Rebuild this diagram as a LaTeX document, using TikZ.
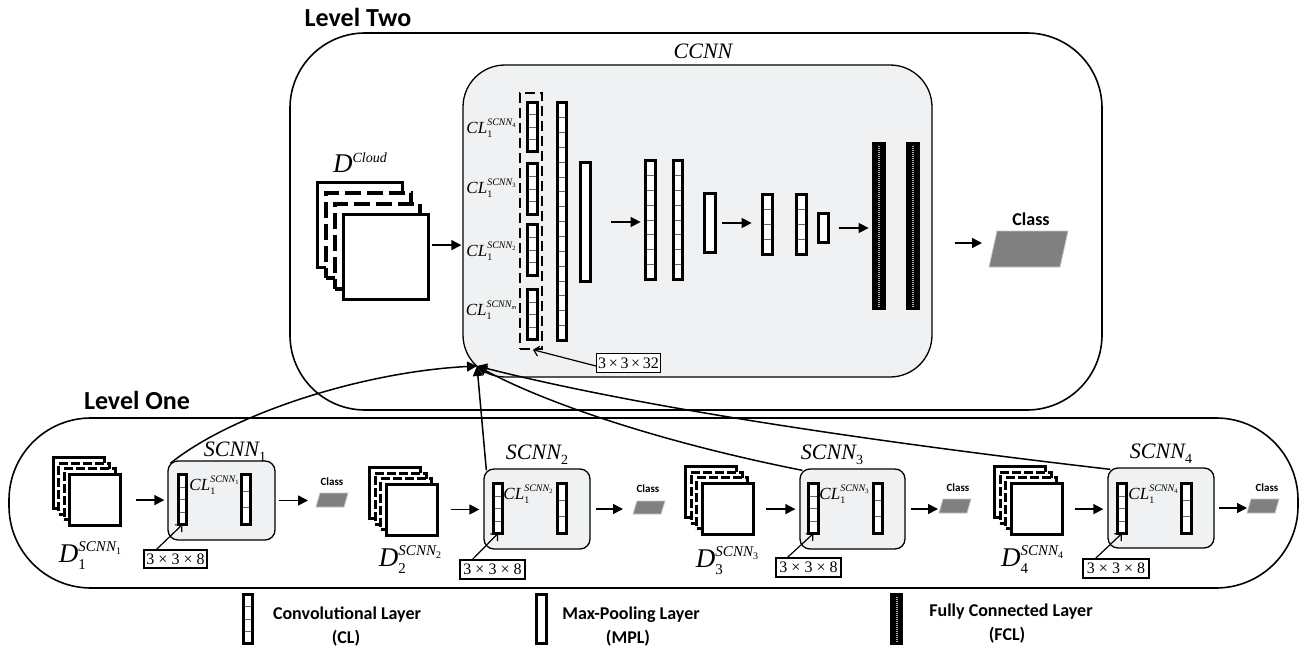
\documentclass[tikz,border=0pt]{standalone}
\usepackage{fontspec}
\setmainfont{Liberation Serif}
\newfontfamily\calib{Carlito}
\usetikzlibrary{arrows.meta,calc}
\definecolor{panel}{HTML}{EFF1F2}
\definecolor{clsgray}{HTML}{808080}
\definecolor{clsedge}{HTML}{C4C4C4}
\newcommand\fs[1]{\fontsize{#1}{#1}\selectfont}
\newcommand\supsub[5]{{\fs{#1}\ooalign{\raisebox{#2}{#4}\cr\raisebox{-#3}{#5}\cr}}}
\newcommand\dlab[1]{{\fs{27}\itshape D}\supsub{15}{11pt}{7pt}{\itshape SCNN\raisebox{-3pt}{\fs{10}\upshape #1}}{\upshape #1}}
\newcommand\cllab[1]{{\fs{17}\itshape CL}\supsub{10}{7.5pt}{4pt}{\itshape SCNN\raisebox{-2pt}{\fs{6.5}\upshape #1}}{\upshape 1}}
\newcommand\scnnlab[1]{{\fs{22}\itshape SCNN}\raisebox{-5pt}{\fs{14}#1}}
\tikzset{
 lay/.style={draw=black, line width=3.2pt, fill=white, inner sep=0pt, outer sep=0pt},
 conv/.style={lay, path picture={%
   \foreach \k in {1,...,#1}{%
     \draw[line width=0.8pt, black!60]
      ($(path picture bounding box.north west)!{\k/#1}!(path picture bounding box.south west)$) --
      ($(path picture bounding box.north east)!{\k/#1}!(path picture bounding box.south east)$);}}},
 fcl/.style={lay, fill=black, path picture={\draw[black!30, line width=2pt, dash pattern=on 1pt off 1pt] (path picture bounding box.north) -- (path picture bounding box.south);}},
 sqs/.style={draw=black, fill=white, inner sep=0pt, outer sep=0pt},
 arr/.style={-{Triangle[length=10pt,width=10pt]}, line width=1.5pt},
 oarr/.style={-{Straight Barb[length=5pt,width=10pt]}, line width=1.2pt},
 dimbox/.style={draw, line width=1.1pt, fill=white, inner sep=1pt, font=\fs{16}},
 sbox/.style={draw, line width=1.3pt, fill=panel, rounded corners=10pt, inner sep=0pt},
 clsst/.style={fill=clsgray, draw=clsedge, line width=0.8pt},
 lbl/.style={inner sep=0pt, outer sep=0pt},
 lgt/.style={font=\calib\bfseries\fs{18}, inner sep=0pt},
 clst/.style={inner sep=0pt, font=\calib\bfseries\fs{11}},
}
\newcommand\lyr[6]{\node[#1, minimum width={#5-#3-3.2}, minimum height={#6-#4-3.2}] (#2) at ({(#3+#5)/2},{(#4+#6)/2}) {};}
\newcommand\dstack[8]{%
 \node[sqs, line width=#7, minimum size={#4-3}] (#1a) at ({#2+#4/2},{#3+#4/2}) {};
 \node[sqs, #8, line width=#7, minimum size={#4-3}] (#1b) at ({#2+#5+#4/2},{#3+#6+#4/2}) {};
 \node[sqs, #8, line width=#7, minimum size={#4-3}] (#1c) at ({#2+2*#5+#4/2},{#3+2*#6+#4/2}) {};
 \node[sqs, line width=#7, minimum size={#4-3}] (#1) at ({#2+3*#5+#4/2},{#3+3*#6+#4/2}) {};}
\newcommand\clsbox[6]{%
 \filldraw[clsst] (#2,#3) -- ++(#4,0) -- ++(-#6,#5) -- ++(-#4,0) -- cycle;
 \coordinate (#1) at ({#2-#6/2},{#3+#5/2});}
\begin{document}
\begin{tikzpicture}[x=1pt,y=-1pt]
\useasboundingbox (0,0) rectangle (1302,650);
\fill[white] (0,0) rectangle (1302,650);
% containers
\node[draw, line width=1.6pt, rounded corners=75pt, minimum width=812pt, minimum height=377pt, inner sep=0pt] (L2) at (696,221.5) {};
\node[draw, line width=1.3pt, fill=panel, rounded corners=42pt, minimum width=469pt, minimum height=312pt, inner sep=0pt] (ccnn) at (697.5,221) {};
\node[draw, line width=1.6pt, rounded corners=82pt, minimum width=1289pt, minimum height=170pt, inner sep=0pt] (L1) at (653.5,503) {};
\node[lbl, font=\calib\bfseries\fs{26}] (lv2) at (358,17) {Level Two};
\node[lbl, font=\calib\bfseries\fs{26}] (lv1) at (137,400) {Level One};
\node[lbl] (ccnnlab) at (703,51) {\fs{22}\itshape CCNN};
% D cloud
\dstack{dc}{316}{181}{88}{8.7}{10.7}{3.5pt}{dash pattern=on 16pt off 6pt}
\node[lbl] (dclab) at (360,163) {{\fs{27}\itshape D}\raisebox{10pt}{\fs{14}\itshape Cloud}};
\coordinate (dcout) at ($(dc.east)+(0,-12)$);
\draw[arr, shorten <=3pt, shorten >=1pt] (dcout) -- (dcout -| ccnn.west);
% CCNN layers
\node[draw, line width=1.5pt, dash pattern=on 10pt off 5pt, minimum width=22pt, minimum height=256pt, inner sep=0pt] (grp) at (531,221) {};
\lyr{conv=4}{cl4}{526}{101}{539}{153}
\lyr{conv=4}{cl3}{526}{162}{539}{216}
\lyr{conv=4}{cl2}{526}{223}{539}{277}
\lyr{conv=4}{clm}{526}{288}{539}{341}
\lyr{conv=16}{bc}{556}{101}{568}{342}
\lyr{lay}{mp1}{579}{161}{592}{283}
\lyr{conv=8}{cv2}{644}{159}{657}{281}
\lyr{conv=8}{cv3}{672}{159}{684}{281}
\lyr{lay}{mp2}{703}{192}{717}{254}
\lyr{conv=4}{cv4}{761}{193}{774}{256}
\lyr{conv=4}{cv5}{795}{193}{808}{256}
\lyr{lay}{mp3}{817}{212}{830}{244}
\lyr{fcl}{fc1}{872}{142}{886}{310}
\lyr{fcl}{fc2}{906}{142}{920}{310}
\node[lbl] (lab4) at (491,128) {\cllab{4}};
\node[lbl] (lab3) at (491,188) {\cllab{3}};
\node[lbl] (lab2) at (491,251) {\cllab{2}};
\node[lbl] (labm) at (491,310) {\cllab{\itshape m}};
\draw[arr, shorten <=21pt, shorten >=5pt] (mp1.east) -- (mp1.east -| cv2.west);
\draw[arr, shorten <=7pt, shorten >=11pt] (mp2.east) -- (mp2.east -| cv4.west);
\draw[arr, shorten <=11pt, shorten >=5pt] (mp3.east) -- (mp3.east -| fc1.west);
\node[dimbox, minimum width=64pt, minimum height=19pt] (b32) at (628.5,363) {3\,×\,3\,×\,32};
\draw[oarr] ($(b32.west)+(0,3)$) -- ($(grp.south)+(2,0)$);
\clsbox{cls0}{997}{231}{71}{36}{8}
\node[lbl, font=\calib\bfseries\fs{18}] (cls0t) at (1031,219) {Class};
\coordinate (ccout) at ($(ccnn.east)+(0,22)$);
\draw[arr, shorten <=22pt, shorten >=11pt] (ccout) -- (ccout -| cls0);
% Level one
\dstack{d1}{52}{456}{54}{5.4}{5.7}{3pt}{dash pattern=on 9pt off 3pt}
\dstack{d2}{368}{466}{54}{5.5}{5.5}{3pt}{dash pattern=on 9pt off 3pt}
\dstack{d3}{684}{465}{54}{5.5}{5.7}{3pt}{dash pattern=on 9pt off 3pt}
\dstack{d4}{993}{465}{54}{5.5}{5.7}{3pt}{dash pattern=on 9pt off 3pt}
\node[lbl] (d1l) at (90,556) {\dlab{1}};
\node[lbl] (d2l) at (410,560) {\dlab{2}};
\node[lbl] (d3l) at (727,561) {\dlab{3}};
\node[lbl] (d4l) at (1032,560) {\dlab{4}};
\node[sbox, minimum width=107pt, minimum height=79pt] (s1) at (221.5,500.5) {};
\node[sbox, minimum width=106pt, minimum height=80pt] (s2) at (537,509) {};
\node[sbox, minimum width=105pt, minimum height=80pt] (s3) at (852.5,509) {};
\node[sbox, minimum width=106pt, minimum height=80pt] (s4) at (1161,508) {};
\node[lbl] (s1l) at (235,452) {\scnnlab{1}};
\node[lbl] (s2l) at (537,455) {\scnnlab{2}};
\node[lbl] (s3l) at (832,455) {\scnnlab{3}};
\node[lbl] (s4l) at (1161,454) {\scnnlab{4}};
\lyr{conv=4}{c1a}{177}{473}{188}{526}
\lyr{conv=3}{c1b}{240}{473}{252}{526}
\lyr{conv=4}{c2a}{492}{482}{504}{535}
\lyr{conv=3}{c2b}{556}{482}{568}{535}
\lyr{conv=4}{c3a}{807}{482}{820}{535}
\lyr{conv=3}{c3b}{872}{482}{884}{535}
\lyr{conv=4}{c4a}{1116}{482}{1128}{535}
\lyr{conv=3}{c4b}{1180}{482}{1193}{535}
\node[lbl] (c1l) at (214,485) {\cllab{1}};
\node[lbl] (c2l) at (528,494) {\cllab{2}};
\node[lbl] (c3l) at (844,494) {\cllab{3}};
\node[lbl] (c4l) at (1153,494) {\cllab{4}};
\clsbox{cls1}{320}{493}{28}{14}{4}
\clsbox{cls2}{637}{501}{28}{13}{4}
\clsbox{cls3}{943}{499}{28}{14}{4}
\clsbox{cls4}{1251}{499}{28}{14}{4}
\node[clst] (cls1t) at (332,482) {Class};
\node[clst] (cls2t) at (648,489) {Class};
\node[clst] (cls3t) at (958,488) {Class};
\node[clst] (cls4t) at (1267,488) {Class};
\draw[arr, shorten <=15pt, shorten >=3pt] (d1.east) -- (d1.east -| s1.west);
\draw[arr, shorten <=3pt, shorten >=10pt] (s1.east) -- (s1.east -| cls1);
\draw[arr, shorten <=14pt, shorten >=4pt] (d2.east) -- (d2.east -| s2.west);
\draw[arr, shorten <=5pt, shorten >=12pt] (s2.east) -- (s2.east -| cls2);
\draw[arr, shorten <=13pt, shorten >=4pt] (d3.east) -- (d3.east -| s3.west);
\draw[arr, shorten <=5pt, shorten >=3pt] (s3.east) -- (s3.east -| cls3);
\draw[arr, shorten <=13pt, shorten >=4pt] (d4.east) -- (d4.east -| s4.west);
\draw[arr, shorten <=4pt, shorten >=2pt] (s4.east) -- (s4.east -| cls4);
\node[dimbox, minimum width=63pt, minimum height=18pt] (b1) at (175.5,559) {3 × 3 × 8};
\node[dimbox, minimum width=65pt, minimum height=19pt] (b2) at (492.5,569.5) {3 × 3 × 8};
\node[dimbox, minimum width=65pt, minimum height=19pt] (b3) at (808.5,567.5) {3 × 3 × 8};
\node[dimbox, minimum width=66pt, minimum height=19pt] (b4) at (1116,568.5) {3 × 3 × 8};
\draw[oarr] ($(b1.north west)+(13,0)$) -- (c1a.south);
\draw[oarr] ($(b2.north west)+(13,0)$) -- (c2a.south);
\draw[oarr] ($(b3.north west)+(12,0)$) -- (c3a.south);
\draw[oarr] ($(b4.north west)+(13,0)$) -- (c4a.south);
% converging connectors
\coordinate (P) at (477,366);
\draw[arr] ($(s1.north west)+(3,3)$) .. controls (230,415) and (360,372) .. (P);
\draw[arr] ($(s2.north west)+(3,2)$) -- (P);
\draw[arr] ($(s3.north west)+(3,2)$) .. controls (650,440) and (540,400) .. (P);
\draw[arr] ($(s4.north west)+(3,2)$) .. controls (900,445) and (650,410) .. (P);
% legend
\lyr{conv=4}{lgc}{242}{593}{254}{645}
\lyr{lay}{lgm}{535}{593}{548}{645}
\lyr{fcl}{lgf}{890}{593}{903}{645}
\node[lgt, anchor=base] (t1a) at (347,619) {Convolutional Layer};
\node[lgt, anchor=base] (t1b) at (346,643) {(CL)};
\node[lgt, anchor=base] (t2a) at (631,619) {Max-Pooling Layer};
\node[lgt, anchor=base] (t2b) at (628,643) {(MPL)};
\node[lgt, anchor=base] (t3a) at (1011,616) {Fully Connected Layer};
\node[lgt, anchor=base] (t3b) at (1007,640) {(FCL)};
\end{tikzpicture}
\end{document}
